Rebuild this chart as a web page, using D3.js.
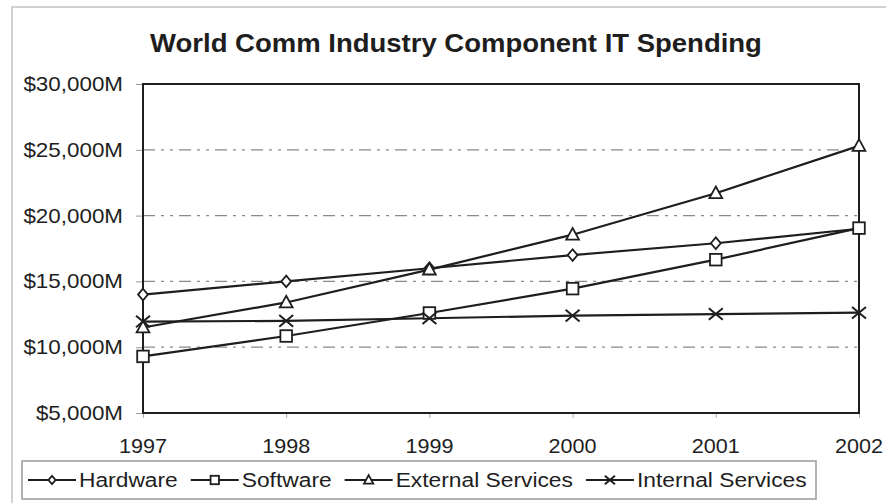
<!DOCTYPE html>
<html>
<head>
<meta charset="utf-8">
<script src="https://cdn.jsdelivr.net/npm/d3@7/dist/d3.min.js"></script>
<style>
  html, body { margin: 0; padding: 0; background: #fff; }
  svg { display: block; }
  text { font-family: "Liberation Sans", Arial, sans-serif; fill: #1e1e1e; }
</style>
</head>
<body>
<svg id="chart" width="886" height="503"></svg>
<script>
// World Comm industry IT spending by component, 1997-2002 ($M)
const years = ["1997", "1998", "1999", "2000", "2001", "2002"];
const hardware = [14000, 15000, 16000, 17000, 17900, 19000];
const software = [9300, 10850, 12600, 14450, 16650, 19050];
const externalServices = [11500, 13400, 15900, 18550, 21700, 25300];
const internalServices = [11950, 12000, 12200, 12400, 12520, 12620];
const seriesNames = ["Hardware", "Software", "External Services", "Internal Services"];
const seriesSymbols = ["diamond", "square", "triangle", "cross"];
const yTicks = [5000, 10000, 15000, 20000, 25000, 30000];
const gridTicks = [10000, 15000, 20000, 25000];
const titleText = "World Comm Industry Component IT Spending";

const seriesValues = [hardware, software, externalServices, internalServices];

const svg = d3.select("#chart");
const ink = "#1e1e1e";

const plot = { left: 143, right: 859, top: 84, bottom: 413 };

const x = d3.scalePoint().domain(years).range([plot.left, plot.right]);
const y = d3.scaleLinear().domain([5000, 30000]).range([plot.bottom, plot.top]);

// outer chart frame
svg.append("rect")
  .attr("x", 12).attr("y", 7).attr("width", 900).attr("height", 520)
  .attr("fill", "none").attr("stroke", "#c4c4c4").attr("stroke-width", 1.5);

// helper: text with a slight horizontal stretch
function stretchedText(parent, tx, ty, str, size, sx, anchor, weight) {
  const g = parent.append("g").attr("transform", `translate(${tx},${ty}) scale(${sx},1)`);
  const t = g.append("text")
    .attr("x", 0).attr("y", 0)
    .attr("text-anchor", anchor || "start")
    .style("font-size", size + "px")
    .style("font-weight", weight || "normal")
    .text(str);
  return t;
}

// title
stretchedText(svg, (plot.left + plot.right) / 2 - 45, 52, titleText, 25, 1.1, "middle", "bold");

// gridlines (dash-dot)
svg.append("g").selectAll("line").data(gridTicks).join("line")
  .attr("x1", plot.left).attr("x2", plot.right)
  .attr("y1", d => y(d)).attr("y2", d => y(d))
  .attr("stroke", "#8a8a8a").attr("stroke-width", 1.2)
  .attr("stroke-dasharray", "12,6,3,6,3,6");

// y axis
const yAxis = svg.append("g")
  .attr("transform", `translate(${plot.left},0)`)
  .call(d3.axisLeft(y).tickValues(yTicks).tickSize(7).tickFormat(() => ""));
yAxis.select(".domain").remove();
yAxis.selectAll(".tick line").attr("stroke", "#999");

yTicks.forEach(v => {
  stretchedText(svg, 123, y(v) + 7, "$" + d3.format(",")(v) + "M", 20, 1.12, "end");
});

// x axis
const xAxis = svg.append("g")
  .attr("transform", `translate(0,${plot.bottom})`)
  .call(d3.axisBottom(x).tickSize(5).tickFormat(() => ""));
xAxis.select(".domain").remove();
xAxis.selectAll(".tick line").attr("stroke", "#aaa");

years.forEach(yr => {
  stretchedText(svg, x(yr), 453, yr, 20, 1.08, "middle");
});

// plot frame
svg.append("rect")
  .attr("x", plot.left).attr("y", plot.top)
  .attr("width", plot.right - plot.left).attr("height", plot.bottom - plot.top)
  .attr("fill", "none").attr("stroke", ink).attr("stroke-width", 2);

// marker shapes
function drawMarker(g, kind, cx, cy, s) {
  if (kind === "diamond") {
    g.append("path")
      .attr("d", `M${cx},${cy - s}L${cx + s * 0.85},${cy}L${cx},${cy + s}L${cx - s * 0.85},${cy}Z`)
      .attr("fill", "#fff").attr("stroke", ink).attr("stroke-width", 1.8);
  } else if (kind === "square") {
    g.append("rect")
      .attr("x", cx - s).attr("y", cy - s).attr("width", 2 * s).attr("height", 2 * s)
      .attr("fill", "#fff").attr("stroke", ink).attr("stroke-width", 1.8);
  } else if (kind === "triangle") {
    g.append("path")
      .attr("d", `M${cx},${cy - s * 1.15}L${cx + s * 1.1},${cy + s * 0.85}L${cx - s * 1.1},${cy + s * 0.85}Z`)
      .attr("fill", "#fff").attr("stroke", ink).attr("stroke-width", 1.8);
  } else {
    g.append("path")
      .attr("d", `M${cx - s * 1.2},${cy - s}L${cx + s * 1.2},${cy + s}M${cx - s * 1.2},${cy + s}L${cx + s * 1.2},${cy - s}`)
      .attr("fill", "none").attr("stroke", ink).attr("stroke-width", 2);
  }
}

const line = d3.line().x((d, i) => x(years[i])).y(d => y(d));
const seriesLayer = svg.append("g");
seriesValues.forEach((vals, si) => {
  seriesLayer.append("path")
    .datum(vals)
    .attr("d", line)
    .attr("fill", "none").attr("stroke", ink).attr("stroke-width", 2.2);
});
seriesValues.forEach((vals, si) => {
  const g = seriesLayer.append("g");
  vals.forEach((v, i) => drawMarker(g, seriesSymbols[si], x(years[i]), y(v), 5.8));
});

// legend
const legend = svg.append("g");
legend.append("rect")
  .attr("x", 22).attr("y", 461).attr("width", 794).attr("height", 38)
  .attr("fill", "#fff").attr("stroke", "#9a9a9a").attr("stroke-width", 1.5);

let lx = 28;
const ly = 480;
seriesNames.forEach((name, i) => {
  legend.append("line")
    .attr("x1", lx).attr("x2", lx + 48).attr("y1", ly).attr("y2", ly)
    .attr("stroke", ink).attr("stroke-width", 2);
  drawMarker(legend, seriesSymbols[i], lx + 24, ly, 4.2);
  const t = stretchedText(legend, lx + 51, 487, name, 21, 1.085, "start");
  lx += 51 + t.node().getComputedTextLength() * 1.085 + 13;
});
</script>
</body>
</html>
